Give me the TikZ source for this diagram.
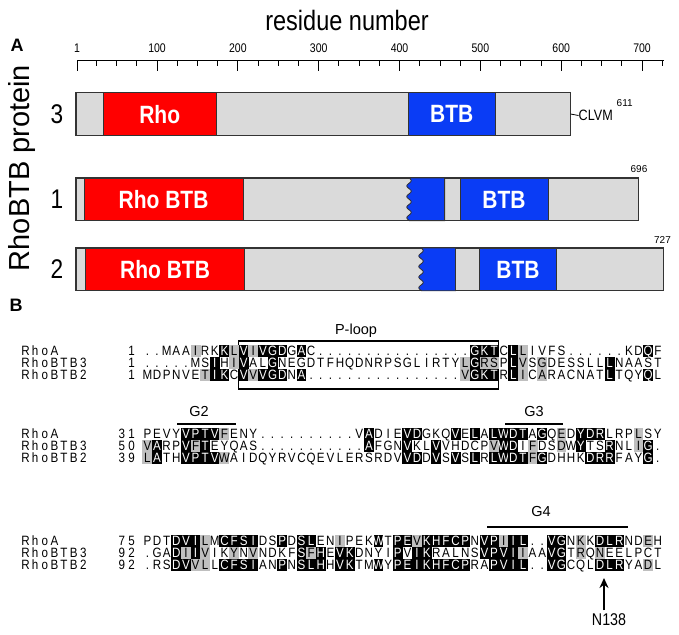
\documentclass[tikz,border=0pt]{standalone}
\usepackage{fontspec}
\setmainfont{Liberation Sans}
\newfontfamily\narrowsf[FakeStretch=0.84]{Liberation Sans}
\newfontfamily\seqsf[FakeStretch=0.86]{Liberation Sans}
\usepackage{tikz}
\usetikzlibrary{arrows.meta}
\definecolor{RhoRed}{HTML}{FF0000}
\definecolor{BtbBlue}{HTML}{0A3CF5}
\definecolor{BarGray}{HTML}{DADADA}
\definecolor{Shade}{HTML}{BFBFBF}

\tikzset{
  resbox/.style={inner sep=0pt, text height=9.6pt, text depth=0pt, font=\seqsf\fontsize{13.5}{13.5}\selectfont},
  protbar/.style={draw=black!80, line width=1.1pt, fill=BarGray},
  rhodom/.style={draw=black!80, line width=0.8pt, fill=RhoRed},
  btbdom/.style={draw=black!80, line width=0.8pt, fill=BtbBlue},
  domlabel/.style={text=white, font=\narrowsf\bfseries\fontsize{25}{25}\selectfont},
  ticklabel/.style={font=\narrowsf\fontsize{12.5}{12.5}\selectfont},
  motif/.style={line width=1.1pt},
  motiflabel/.style={font=\fontsize{14.5}{14.5}\selectfont},
}

\makeatletter
\newcount\sq@k
\newif\ifsq@blk
\newif\ifsq@gry
\newcommand\seqrow[4]{%
  \def\sq@n{#1}\def\sq@y{#2}\def\sq@x{#3}\global\sq@k=0\relax
  \sq@loop#4\@nil}
\def\sq@loop#1{%
  \ifx#1\@nil\else
    \ifx#1!\global\sq@blktrue\else
      \ifx#1+\global\sq@grytrue\else
        \sq@put{#1}\global\advance\sq@k by 1\relax
      \fi
    \fi
    \expandafter\sq@loop
  \fi}
\def\sq@put#1{%
  \pgfmathsetmacro\sq@cx{\sq@x+9.63*\the\sq@k}%
  \ifsq@blk\fill[black] (\sq@cx-4.95,\sq@y-6.1) rectangle (\sq@cx+4.95,\sq@y+6.1);\fi
  \ifsq@gry\fill[Shade] (\sq@cx-4.95,\sq@y-6.1) rectangle (\sq@cx+4.95,\sq@y+6.1);\fi
  \ifsq@blk\node[resbox,text=white] (\sq@n\the\sq@k) at (\sq@cx,\sq@y) {#1};%
  \else\node[resbox] (\sq@n\the\sq@k) at (\sq@cx,\sq@y) {#1};\fi
  \global\sq@blkfalse\global\sq@gryfalse}
\makeatother

\begin{document}
\begin{tikzpicture}[x=1pt, y=-1pt]
  \useasboundingbox (0,0) rectangle (679,634);

  \node[font=\bfseries\fontsize{18}{18}\selectfont] (pA) at (17,45) {A};
  \node[font=\narrowsf\fontsize{28}{28}\selectfont] (title) at (347,20) {residue number};

  \draw[line width=1pt] (77,60) -- (663.8,60);
  \foreach \r in {25,50,...,725}
    \draw[line width=0.8pt] ({77+(\r-1)*0.8083},60) -- ++(0,6);
  \foreach \r in {100,200,...,700} {
    \draw[line width=1pt] ({77+(\r-1)*0.8083},60) -- ++(0,11);
    \node[ticklabel] (t\r) at ({77+(\r-1)*0.8083},48) {\r};
  }
  \draw[line width=1pt] (77,60) -- ++(0,11);
  \node[ticklabel] (t1) at (77,48) {1};

  \node[rotate=90, font=\fontsize{29}{29}\selectfont] (ylab) at (22,168) {RhoBTB protein};
  \node[font=\narrowsf\fontsize{27}{27}\selectfont] (n3) at (57,114) {3};
  \node[font=\narrowsf\fontsize{27}{27}\selectfont] (n1) at (57,199.3) {1};
  \node[font=\narrowsf\fontsize{27}{27}\selectfont] (n2) at (57,269.4) {2};

  \draw[protbar] (76,92.5) rectangle (570.6,135.8);
  \draw[rhodom] (103,92.5) rectangle (216.5,135.8);
  \draw[btbdom] (408,92.5) rectangle (495.7,135.8);
  \node[domlabel] (rho3) at (159.7,114.2) {Rho};
  \node[domlabel] (btb3) at (451.8,114.2) {BTB};
  \coordinate (end3) at (570.6,114);
  \node[anchor=west, inner sep=0pt, font=\narrowsf\fontsize{15}{15}\selectfont] (clvm) at (578.5,115.5) {CLVM};
  \draw[line width=0.8pt] (end3) -- (clvm.west);
  \node[anchor=west, inner sep=0pt, font=\fontsize{10}{10}\selectfont] (len3) at (616.5,103) {611};

  \draw[protbar] (76,178) rectangle (638.8,220.6);
  \draw[rhodom] (84.4,178) rectangle (242.9,220.6);
  \filldraw[btbdom] plot[domain=178:220.6, samples=60, smooth] ({409+2.2*sin((\x-178)*34)},\x)
    -- (444.6,220.6) -- (444.6,178) -- cycle;
  \draw[btbdom] (460,178) rectangle (548,220.6);
  \node[domlabel] (rho1) at (163.6,199.5) {Rho BTB};
  \node[domlabel] (btb1) at (504,199.5) {BTB};
  \node[font=\fontsize{10}{10}\selectfont] (len1) at (639,169.5) {696};

  \draw[protbar] (76,248) rectangle (663.8,290.8);
  \draw[rhodom] (85.7,248) rectangle (244.6,290.8);
  \filldraw[btbdom] plot[domain=248:290.8, samples=60, smooth] ({421+2.2*sin((\x-248)*34)},\x)
    -- (455.4,290.8) -- (455.4,248) -- cycle;
  \draw[btbdom] (479.7,248) rectangle (556.3,290.8);
  \node[domlabel] (rho2) at (165.1,269.6) {Rho BTB};
  \node[domlabel] (btb2) at (518,269.6) {BTB};
  \node[font=\fontsize{10}{10}\selectfont] (len2) at (662.5,239.7) {727};

  \node[font=\bfseries\fontsize{18}{18}\selectfont] (pB) at (16,305) {B};

  \draw[motif] (238.9,341) rectangle (498.9,389);
  \node[motiflabel] (ploop) at (356,331) {P-loop};

  \seqrow{nm1a-}{351}{25.5}{RhoA}
  \seqrow{nm1b-}{363}{25.5}{RhoBTB3}
  \seqrow{nm1c-}{375}{25.5}{RhoBTB2}
  \seqrow{k1a-}{351}{131.5}{1}
  \seqrow{k1b-}{363}{131.5}{1}
  \seqrow{k1c-}{375}{131.5}{1}
  \seqrow{s1a-}{351}{147.4}{..MAA+IRK!K+L!V+I!V!G!DG!AC................!G!K!TC!L+LIVFS......KD!QF}
  \seqrow{s1b-}{363}{147.4}{.....MS!IH+I!VAL!GNEGDTFHQDNRPSGLIRTY+L!G+R+SP!L+VS+GDESSLL!LNAAST}
  \seqrow{s1c-}{375}{147.4}{MDPNVE+T!I!KC!V+V!V!G!DN!A................+V!G!K!TR!L+IC+ARACNAT!LTQY!QL}

  \draw[motif] (177,424) -- (236,424);
  \node[motiflabel] (g2) at (199,412) {G2};
  \draw[motif] (505,424) -- (563,424);
  \node[motiflabel] (g3) at (534,412) {G3};

  \seqrow{nm2a-}{434}{25.5}{RhoA}
  \seqrow{nm2b-}{446}{25.5}{RhoBTB3}
  \seqrow{nm2c-}{458}{25.5}{RhoBTB2}
  \seqrow{k2a-}{434}{121.9}{31}
  \seqrow{k2b-}{446}{121.9}{50}
  \seqrow{k2c-}{458}{121.9}{39}
  \seqrow{s2a-}{434}{147.4}{PEVY!V!P!T!V+FENY..........V!ADIE!V!DGKQ!VE!LA!L!W!D!TA!GQ+ED!Y!D!RLRP+LSY}
  \seqrow{s2b-}{446}{147.4}{+V!ARP!V+F!TEYQAS...........!AFGN!VKL!VVHDCP+V!W!DI+FDS+DW!YTS!RNL+I!G.}
  \seqrow{s2c-}{458}{147.4}{+L!ATH!V!P!T!V+WAIDQYRVCQEVLERSRDV!V!DD!VS!VS!LR!L!W!D!T+F!GDHHK!D!R!RFAY!G.}

  \draw[motif] (487,527) -- (628,527);
  \node[motiflabel] (g4) at (541,512) {G4};

  \seqrow{nm3a-}{541}{25.5}{RhoA}
  \seqrow{nm3b-}{553}{25.5}{RhoBTB3}
  \seqrow{nm3c-}{565}{25.5}{RhoBTB2}
  \seqrow{k3a-}{541}{121.9}{75}
  \seqrow{k3b-}{553}{121.9}{92}
  \seqrow{k3c-}{565}{121.9}{92}
  \seqrow{s3a-}{541}{147.4}{PDT!D!V!I+LM!C!F!S!IDS!PD!S!LEN+IPEK!WT!P!E+V!K!H!F!C!PN!V!P+I!I!L..!V!GN+KK!D!L!RND+EH}
  \seqrow{s3b-}{553}{147.4}{.GA!D+I!I+VIK+YN+VNDKF!S+F!HE!V!KDNYI!PV!I!KRALNS!V!P!V!I+IAA!V!GT+RQ+NEELPCT}
  \seqrow{s3c-}{565}{147.4}{.RS!D!V+V+LL!C!F!S!IAN!PN!S!L!HH!V!KTM!WY!P!E!I!K!H!F!C!PRA!P!V!I!L..!V!GCQL!D!L!RYA+DL}

  \coordinate (tip) at (604,578);
  \node[font=\narrowsf\fontsize{17}{17}\selectfont] (n138) at (609,620) {N138};
  \draw[line width=1.8pt, -{Stealth[length=10pt, width=9pt]}] (n138.north -| tip) -- (tip);
\end{tikzpicture}
\end{document}
